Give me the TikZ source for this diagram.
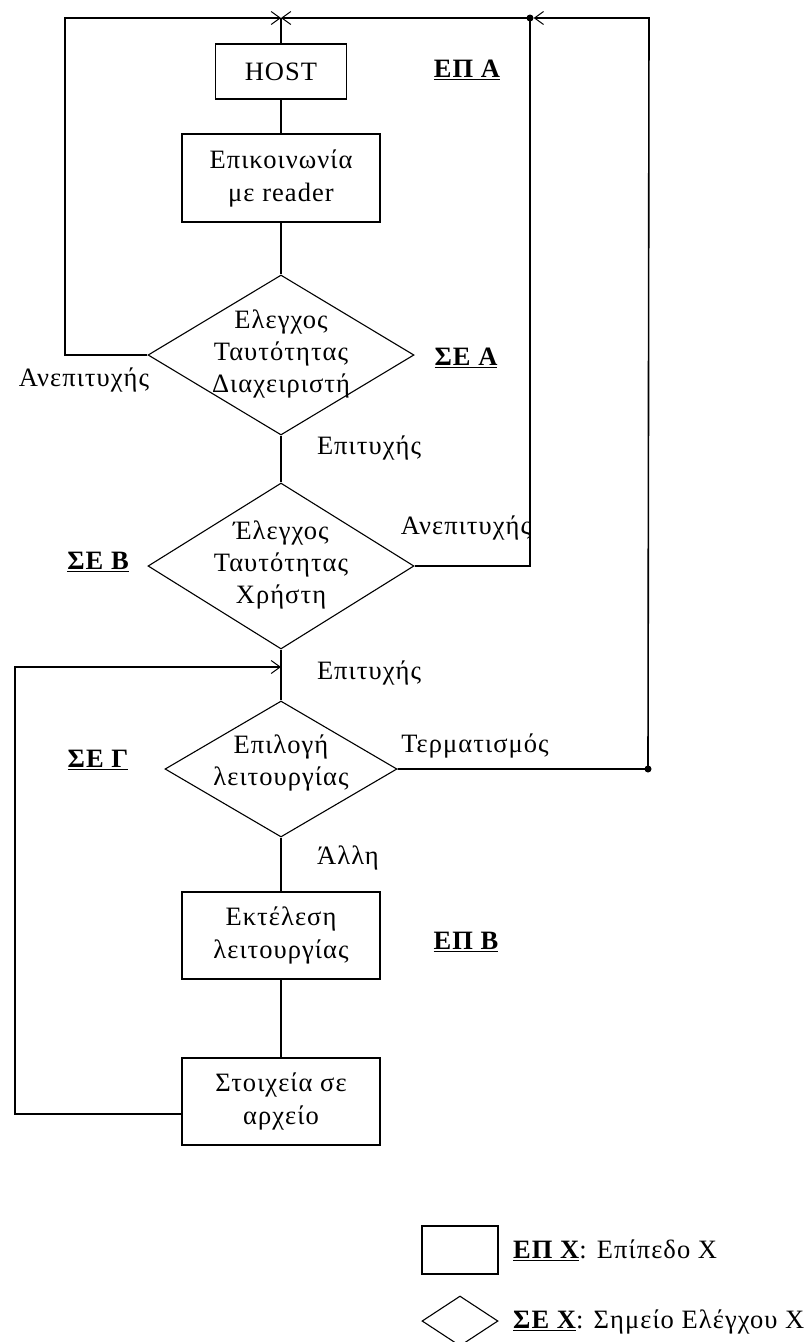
\documentclass[tikz,border=0pt]{standalone}
\usepackage{fontspec}
\setmainfont{Liberation Serif}[LetterSpace=4]
\usetikzlibrary{shapes.geometric,arrows.meta}
\begin{document}
\begin{tikzpicture}[x=1pt,y=-1pt,
  conn/.style={line width=1.6pt},
  arr/.style={conn,-{Straight Barb[length=9pt,width=13pt,line width=1pt]}},
  box/.style={draw,line width=1.7pt,rectangle,inner sep=0pt,align=center,font=\fontsize{26.5}{33}\selectfont},
  dia/.style={draw,line width=1.1pt,diamond,inner sep=0pt},
  txt/.style={align=center,font=\fontsize{26.5}{32}\selectfont,inner sep=0pt},
  lvl/.style={font=\fontsize{26.5}{32}\selectfont\bfseries,inner sep=0pt},
  dotc/.style={circle,fill,inner sep=0pt,minimum size=7pt}]
\useasboundingbox (0,0) rectangle (807,1342);
% boxes
\node[box,minimum width=131pt,minimum height=55pt] (host) at (281,71.5) {HOST};
\node[box,minimum width=198pt,minimum height=88pt] (comm) at (281,178) {Επικοινωνία\\με reader};
\node[box,minimum width=198pt,minimum height=87pt] (exec) at (281,935.5) {Εκτέλεση\\λειτουργίας};
\node[box,minimum width=198pt,minimum height=87pt] (store) at (281,1101.5) {Στοιχεία σε\\αρχείο};
% diamonds
\node[dia,minimum width=266pt,minimum height=160pt] (d1) at (281,355) {};
\node[dia,minimum width=266pt,minimum height=166pt] (d2) at (281,566) {};
\node[dia,minimum width=232pt,minimum height=136pt] (d3) at (281,769) {};
\node[txt] (d1t) at (281,354) {Ελεγχος\\Ταυτότητας\\Διαχειριστή};
\node[txt] (d2t) at (281,565) {Έλεγχος\\Ταυτότητας\\Χρήστη};
\node[txt] (d3t) at (281,763) {Επιλογή\\λειτουργίας};
% junctions
\coordinate (top1) at (281,18);
\coordinate (tl) at (65,18);
\coordinate (tr) at (649,18);
\coordinate (j2) at (281,667);
\coordinate (lb) at (15,667);
\node[dotc] (dotA) at (530,18) {};
\node[dotc] (dotB) at (648,769) {};
% spine
\draw[conn] (host.south) -- (comm.north);
\draw[conn] (comm.south) -- (d1.north);
\draw[conn] (d1.south) -- (d2.north);
\draw[conn] (d2.south) -- (d3.north);
\draw[conn] (d3.south) -- (exec.north);
\draw[conn] (exec.south) -- (store.north);
\draw[conn] (host.north) -- (top1);
% loops
\draw[arr] (d1.west) -| (tl) -- (top1);
\draw[arr] (d2.east) -| (dotA.center) -- (top1);
\draw[arr] (d3.east) -- (dotB.center) -- (tr) -- (dotA);
\draw[arr] ([yshift=-12.5pt]store.west) -| (lb) -- (j2);
% labels
\node[txt] (l1) at (84,380) {Ανεπιτυχής};
\node[txt] (l2) at (369,448) {Επιτυχής};
\node[txt] (l3) at (466,528) {Ανεπιτυχής};
\node[txt] (l4) at (369,673) {Επιτυχής};
\node[txt] (l5) at (475,746) {Τερματισμός};
\node[txt] (l6) at (348,858) {Άλλη};
\node[lvl] (epa) at (467,70) {\underline{ΕΠ Α}};
\node[lvl] (sea) at (466,358) {\underline{ΣΕ Α}};
\node[lvl] (seb) at (98,562) {\underline{ΣΕ Β}};
\node[lvl] (seg) at (98,760) {\underline{ΣΕ Γ}};
\node[lvl] (epb) at (466,942) {\underline{ΕΠ Β}};
% legend
\node[draw,line width=1.7pt,rectangle,minimum width=76pt,minimum height=48pt] (legr) at (460,1250) {};
\node[dia,minimum width=76pt,minimum height=50pt] (legd) at (460,1321) {};
\node[lvl,anchor=west] (leg1) at (513,1250) {\underline{ΕΠ Χ}\mdseries: Επίπεδο Χ};
\node[lvl,anchor=west] (leg2) at (513,1322) {\underline{ΣΕ Χ}\mdseries: Σημείο Ελέγχου Χ};
\end{tikzpicture}
\end{document}
